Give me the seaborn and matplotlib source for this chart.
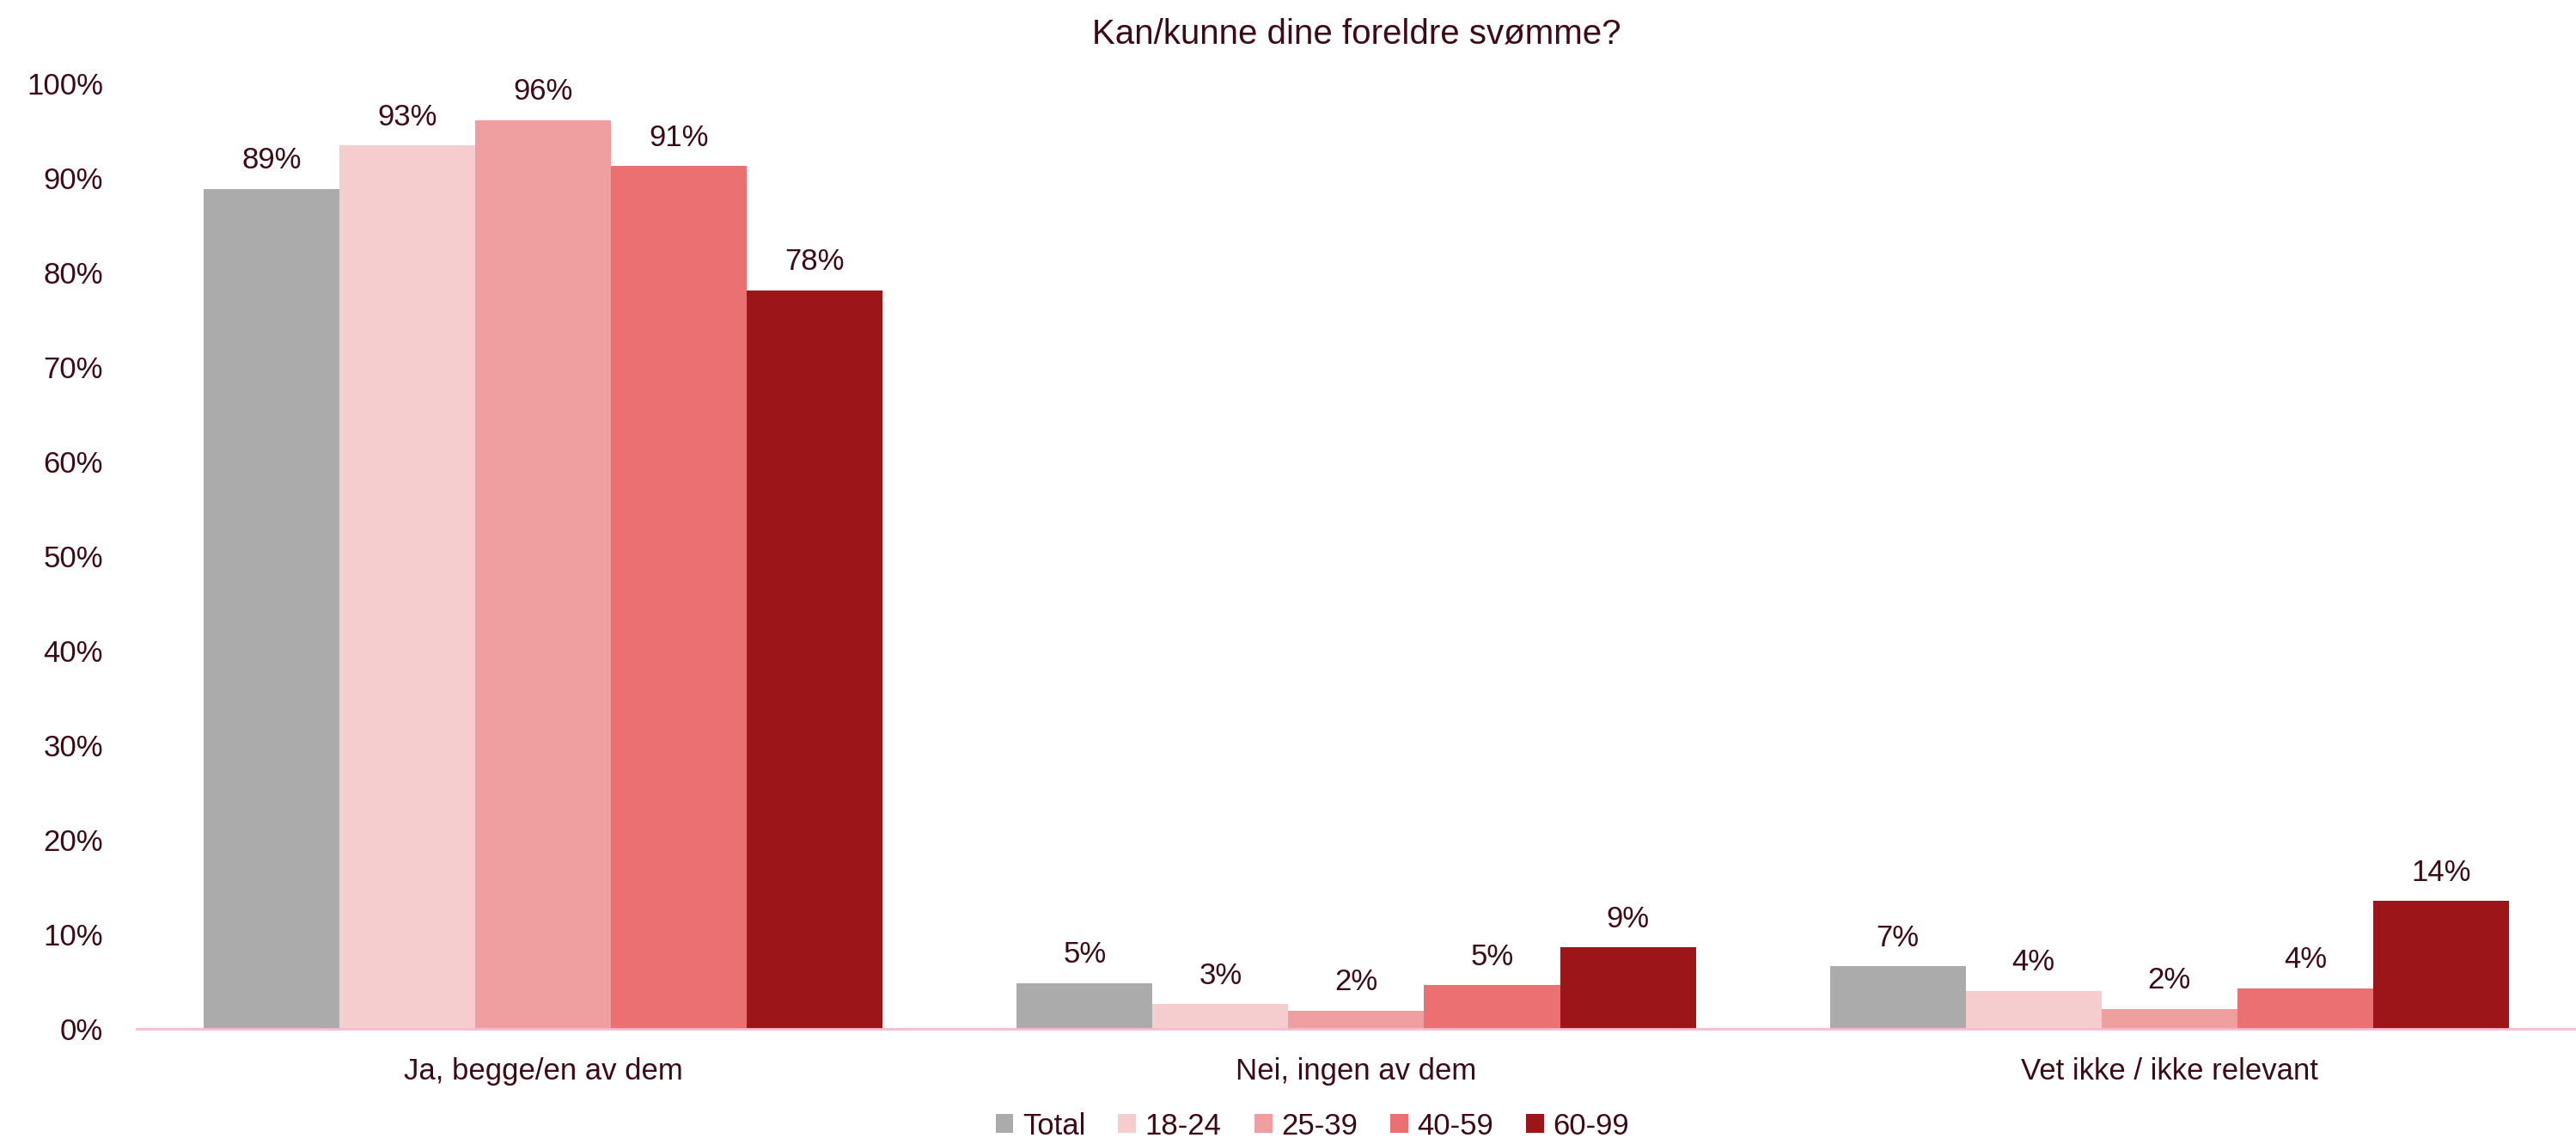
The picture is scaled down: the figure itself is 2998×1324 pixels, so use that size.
import pandas as pd
import matplotlib.pyplot as plt
import seaborn as sns

# Chart data
categories = ['Ja, begge/en av dem', 'Nei, ingen av dem', 'Vet ikke / ikke relevant']
groups = ['Total', '18-24', '25-39', '40-59', '60-99']
total = [88.8, 4.8, 6.6]
age_18_24 = [93.4, 2.6, 4.0]
age_25_39 = [96.1, 1.9, 2.1]
age_40_59 = [91.2, 4.6, 4.3]
age_60_99 = [78.1, 8.6, 13.5]
colors = ['#ABABAB', '#F6CDCF', '#F09FA0', '#EB7071', '#9C1619']

text_color = '#3D0A18'

rows = []
for g, vals in zip(groups, [total, age_18_24, age_25_39, age_40_59, age_60_99]):
    for c, v in zip(categories, vals):
        rows.append({'Kategori': c, 'Gruppe': g, 'Andel': v})
df = pd.DataFrame(rows)

sns.set_style('white')
plt.rcParams['font.family'] = ['Liberation Sans', 'DejaVu Sans']

fig = plt.figure(figsize=(29.98, 13.24), dpi=100)
ax = fig.add_axes([0.053, 0.096, 0.947, 0.831])

sns.barplot(data=df, x='Kategori', y='Andel', hue='Gruppe', order=categories,
            hue_order=groups, palette=colors, width=0.835, saturation=1,
            edgecolor='none', ax=ax)

for container in ax.containers:
    ax.bar_label(container, labels=[f'{v:.0f}%' for v in container.datavalues],
                 padding=12, fontsize=25, color=text_color)

ax.set_ylim(0, 100)
ax.set_xlim(-0.5, 2.5)
ax.set_yticks(range(0, 101, 10))
ax.set_yticklabels([f'{t}%' for t in range(0, 101, 10)], fontsize=25, color=text_color)
ax.tick_params(axis='x', labelsize=25, labelcolor=text_color, pad=24, length=0)
ax.tick_params(axis='y', pad=28, length=0)
ax.set_xlabel('')
ax.set_ylabel('')

for side in ['top', 'right', 'left']:
    ax.spines[side].set_visible(False)
ax.spines['bottom'].set_color('#F9B9D2')
ax.spines['bottom'].set_linewidth(2)

ax.set_title('Kan/kunne dine foreldre svømme?', fontsize=29, color=text_color, pad=0,
             y=1.0 + 0.042)

handles, labels = ax.get_legend_handles_labels()
ax.legend(handles, labels, loc='lower center', bbox_to_anchor=(0.482, -0.14),
          ncol=5, frameon=False, fontsize=25, handlelength=0.6, handleheight=0.6,
          handletextpad=0.3, columnspacing=1.1, labelcolor=text_color,
          borderaxespad=0.3)

fig.savefig('out.png', dpi=100)
